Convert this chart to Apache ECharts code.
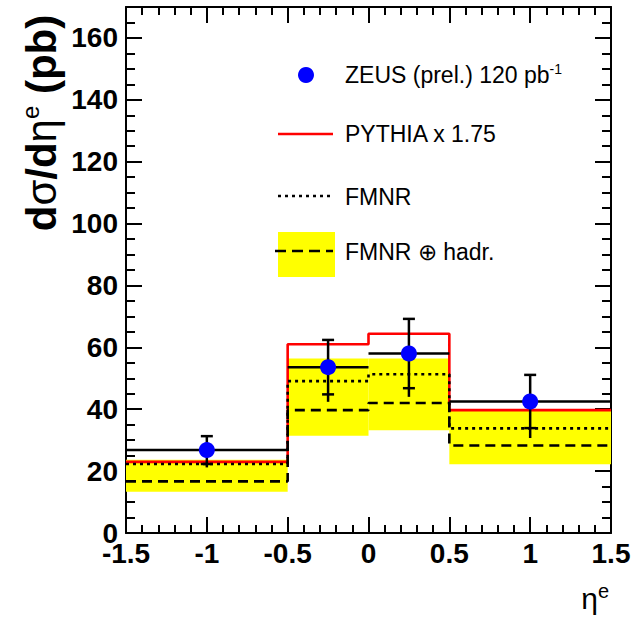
<!DOCTYPE html>
<html>
<head>
<meta charset="utf-8">
<script src="https://cdn.jsdelivr.net/npm/echarts@6/dist/echarts.min.js"></script>
<style>
  html, body { margin: 0; padding: 0; background: #fff; }
  #chart { width: 632px; height: 622px; }
</style>
</head>
<body>
<div id="chart"></div>
<script>
// bins in eta^e and measured / predicted cross sections (pb)
const binEdges = [-1.5, -0.5, 0, 0.5, 1.5];
const etaPoints = [-1, -0.25, 0.25, 1];
const zeus = [26.8, 53.6, 58.0, 42.5];
const statErr = [4.5, 8.8, 11.2, 8.6];
const totErrDown = [5.6, 11.2, 14.0, 11.8];
const pythia = [23.0, 61.0, 64.4, 39.7];
const fmnr = [22.3, 49.1, 51.3, 33.8];
const fmnrHadr = [16.7, 39.7, 42.0, 28.3];
const bandLow = [13.3, 31.4, 33.2, 22.2];
const bandHigh = [23.7, 56.4, 56.4, 39.4];

const FONT = 'Liberation Sans, Arial, Helvetica, sans-serif';

// histogram as step line: one point per bin edge
const stepData = vals => binEdges.map((e, i) => [e, vals[Math.min(i, vals.length - 1)]]);

const chart = echarts.init(document.getElementById('chart'), null, { renderer: 'svg' });

const tickLine = { color: '#000', width: 2 };
const frame = { show: true, onZero: false, lineStyle: { color: '#000', width: 2 } };

const xBase = {
  type: 'value', min: -1.5, max: 1.5, interval: 0.5,
  axisLine: frame,
  axisTick: { show: true, inside: true, length: 16, lineStyle: tickLine },
  minorTick: { show: true, splitNumber: 5, length: 8, lineStyle: tickLine },
  splitLine: { show: false },
  minorSplitLine: { show: false }
};

const yMajor = (pos, labels) => ({
  type: 'value', min: 0, max: 170, interval: 20, position: pos,
  axisLine: frame,
  axisTick: { show: true, inside: true, length: 16, lineStyle: tickLine },
  splitLine: { show: false },
  axisLabel: labels ? {
    show: true, margin: 8, showMaxLabel: false,
    fontFamily: FONT, fontWeight: 'bold', fontSize: 28, color: '#000'
  } : { show: false }
});

const yMinor = pos => ({
  type: 'value', min: 0, max: 170, interval: 5, position: pos,
  axisLine: { show: false, onZero: false },
  axisTick: { show: true, inside: true, length: 9, lineStyle: tickLine },
  splitLine: { show: false },
  axisLabel: { show: false }
});

const option = {
  animation: false,
  backgroundColor: '#fff',
  grid: { left: 126, right: 21, top: 7, bottom: 89, outerBoundsMode: 'none' },
  xAxis: [
    Object.assign({}, xBase, {
      position: 'bottom',
      axisLabel: {
        show: true, margin: 6, showMinLabel: true, showMaxLabel: true,
        fontFamily: FONT, fontWeight: 'bold', fontSize: 28, color: '#000'
      }
    }),
    Object.assign({}, xBase, { position: 'top', axisLabel: { show: false } })
  ],
  yAxis: [yMajor('left', true), yMinor('left'), yMajor('right', false), yMinor('right')],
  series: [
    {
      name: 'FMNR band',
      type: 'custom',
      z: 1,
      encode: { x: [0, 1], y: [2, 3] },
      data: bandLow.map((lo, i) => [binEdges[i], binEdges[i + 1], lo, bandHigh[i]]),
      renderItem: (params, api) => {
        const p0 = api.coord([api.value(0), api.value(3)]);
        const p1 = api.coord([api.value(1), api.value(2)]);
        return {
          type: 'rect',
          shape: { x: p0[0], y: p0[1], width: p1[0] - p0[0], height: p1[1] - p0[1] },
          style: { fill: '#ffff00' }
        };
      }
    },
    {
      name: 'PYTHIA x 1.75',
      type: 'line', step: 'end', z: 3, symbol: 'none',
      data: stepData(pythia),
      lineStyle: { color: '#ff0000', width: 2.6 }
    },
    {
      name: 'FMNR',
      type: 'line', step: 'end', z: 3, symbol: 'none',
      data: stepData(fmnr),
      lineStyle: { color: '#000', width: 2.6, type: [3, 4] }
    },
    {
      name: 'FMNR hadr',
      type: 'line', step: 'end', z: 3, symbol: 'none',
      data: stepData(fmnrHadr),
      lineStyle: { color: '#000', width: 2.6, type: [10, 6] }
    },
    {
      name: 'ZEUS errors',
      type: 'custom',
      z: 4,
      encode: { x: 0, y: 1 },
      data: zeus.map((v, i) => [etaPoints[i], v, binEdges[i], binEdges[i + 1],
        v - statErr[i], v + statErr[i], v - totErrDown[i]]),
      renderItem: (params, api) => {
        const x = api.value(0), y = api.value(1);
        const l = api.coord([api.value(2), y]);
        const r = api.coord([api.value(3), y]);
        const sLo = api.coord([x, api.value(4)]);
        const sHi = api.coord([x, api.value(5)]);
        const tLo = api.coord([x, api.value(6)]);
        const st = { stroke: '#000', lineWidth: 2.5 };
        const cap = 6;
        return {
          type: 'group',
          children: [
            { type: 'line', shape: { x1: l[0], y1: l[1], x2: r[0], y2: r[1] }, style: st },
            { type: 'line', shape: { x1: sHi[0], y1: sHi[1], x2: tLo[0], y2: tLo[1] }, style: st },
            { type: 'line', shape: { x1: sHi[0] - cap, y1: sHi[1], x2: sHi[0] + cap, y2: sHi[1] }, style: st },
            { type: 'line', shape: { x1: sLo[0] - cap, y1: sLo[1], x2: sLo[0] + cap, y2: sLo[1] }, style: st }
          ]
        };
      }
    },
    {
      name: 'ZEUS (prel.) 120 pb-1',
      type: 'scatter', z: 5,
      symbol: 'circle', symbolSize: 16,
      itemStyle: { color: '#0000ff', opacity: 1 },
      data: zeus.map((v, i) => [etaPoints[i], v])
    }
  ],
  graphic: [
    // axis titles
    {
      type: 'text', x: 41, y: 123, rotation: Math.PI / 2,
      style: {
        text: '{b|d}{g|σ}{b|/d}{g|η}{s|e}{b| (pb)}',
        align: 'center', verticalAlign: 'middle',
        rich: {
          b: { fontFamily: FONT, fontWeight: 'bold', fontSize: 42, lineHeight: 46, fill: '#000' },
          g: { fontFamily: FONT, fontSize: 42, lineHeight: 46, fill: '#000' },
          s: { fontFamily: FONT, fontSize: 24, lineHeight: 24, verticalAlign: 'top', fill: '#000' }
        }
      }
    },
    {
      type: 'text', x: 609, y: 598,
      style: {
        text: '{g|η}{s|e}',
        align: 'right', verticalAlign: 'middle',
        rich: {
          g: { fontFamily: FONT, fontSize: 30, lineHeight: 34, fill: '#000' },
          s: { fontFamily: FONT, fontSize: 20, lineHeight: 20, verticalAlign: 'top', fill: '#000' }
        }
      }
    },
    // legend
    { type: 'circle', shape: { cx: 306, cy: 75, r: 8 }, style: { fill: '#0000ff' }, z: 10 },
    {
      type: 'text', x: 345, y: 75, z: 10,
      style: {
        text: '{t|ZEUS (prel.) 120 pb}{s|-1}',
        align: 'left', verticalAlign: 'middle',
        rich: {
          t: { fontFamily: FONT, fontSize: 23, lineHeight: 26, fill: '#000' },
          s: { fontFamily: FONT, fontSize: 14, lineHeight: 14, verticalAlign: 'top', fill: '#000' }
        }
      }
    },
    { type: 'line', shape: { x1: 278, y1: 134, x2: 333, y2: 134 }, style: { stroke: '#ff0000', lineWidth: 2.6 }, z: 10 },
    {
      type: 'text', x: 345, y: 134, z: 10,
      style: { text: 'PYTHIA x 1.75', font: '23px ' + FONT, fill: '#000', align: 'left', verticalAlign: 'middle' }
    },
    { type: 'line', shape: { x1: 278, y1: 196, x2: 333, y2: 196 }, style: { stroke: '#000', lineWidth: 2.6, lineDash: [3, 4] }, z: 10 },
    {
      type: 'text', x: 345, y: 197, z: 10,
      style: { text: 'FMNR', font: '23px ' + FONT, fill: '#000', align: 'left', verticalAlign: 'middle' }
    },
    { type: 'rect', shape: { x: 278, y: 232, width: 57, height: 45 }, style: { fill: '#ffff00' }, z: 10 },
    { type: 'line', shape: { x1: 275, y1: 251, x2: 333, y2: 251 }, style: { stroke: '#000', lineWidth: 2.6, lineDash: [11, 6] }, z: 11 },
    {
      type: 'text', x: 345, y: 252, z: 10,
      style: { text: 'FMNR ⊕ hadr.', font: '23px ' + FONT, fill: '#000', align: 'left', verticalAlign: 'middle' }
    }
  ]
};

chart.setOption(option);
window.addEventListener('resize', () => chart.resize());
</script>
</body>
</html>
